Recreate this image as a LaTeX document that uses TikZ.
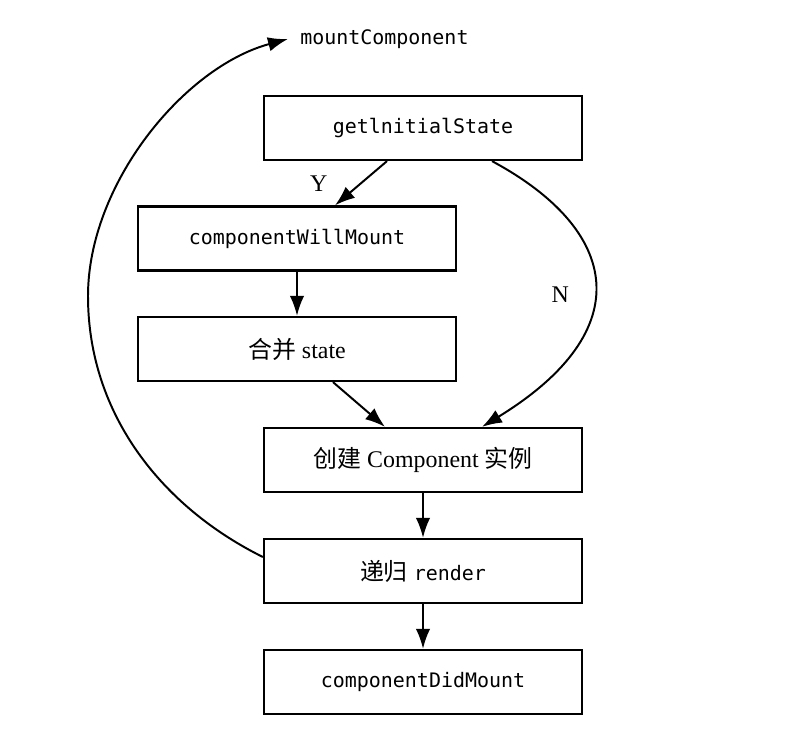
\documentclass[tikz,border=0pt]{standalone}
\usepackage{fontspec}
\setmainfont{Liberation Serif}
\setmonofont{DejaVu Sans Mono}
\newfontfamily\cjk{Noto Sans CJK SC}
\usetikzlibrary{arrows.meta,positioning}

\begin{document}
\begin{tikzpicture}[
  box/.style={draw, line width=1.6pt, minimum width=7.95cm, minimum height=1.6cm, inner sep=0pt, font=\fontsize{17}{20}\selectfont},
  code/.style={font=\fontsize{14.2}{17}\ttfamily},
  flow/.style={line width=1.4pt, -{Latex[length=0.5cm,width=0.36cm]}},
  lbl/.style={font=\fontsize{17}{20}\selectfont}
]
\useasboundingbox (0,0) rectangle (20.3,18.4);

\node[box] (init) at (10.575,15.2) {\fontsize{14.2}{17}\ttfamily getlnitialState};
\node[box] (will) at (7.425,12.4375) {\fontsize{14.2}{17}\ttfamily componentWillMount};
\node[box] (merge) at (7.425,9.675) {{\cjk 合并} state};
\node[box] (create) at (10.575,6.9) {{\cjk 创建} Component {\cjk 实例}};
\node[box] (render) at (10.575,4.125) {{\cjk 递归} {\fontsize{14.2}{17}\ttfamily render}};
\node[box] (did) at (10.575,1.35) {\fontsize{14.2}{17}\ttfamily componentDidMount};
\node[code, anchor=west, inner xsep=0.3cm, inner ysep=0pt] (mount) at (7.2,17.425) {mountComponent};

\draw[flow] ([xshift=-0.9cm]init.south) -- node[lbl, midway, left=0.7cm] (yes) {Y} ([xshift=0.95cm]will.north);
\draw[flow] ([xshift=1.725cm]init.south) .. controls (15.5,12.65) and (16.0,10.15) .. node[lbl, pos=0.5, xshift=-0.85cm, yshift=-0.28cm] (no) {N} ([xshift=1.475cm]create.north);
\draw[flow] (will) -- (merge);
\draw[flow] ([xshift=0.9cm]merge.south) -- ([xshift=-0.95cm]create.north);
\draw[flow] (create) -- (render);
\draw[flow] (render) -- (did);
\draw[flow] ([yshift=0.35cm]render.west) .. controls (4.1,5.7) and (2.2,8.0) .. (2.2,11.0) .. controls (2.2,13.8) and (4.6,16.725) .. (mount.west);
\end{tikzpicture}
\end{document}
